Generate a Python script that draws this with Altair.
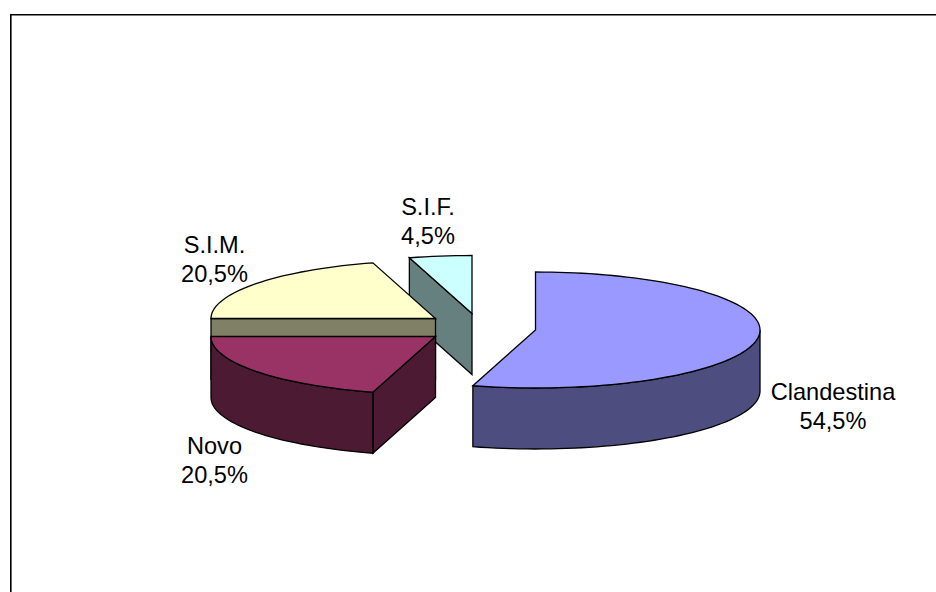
import math

import altair as alt
import pandas as pd

# Shares of each category, clockwise from twelve o'clock
categories = ["Clandestina", "Novo", "S.I.M.", "S.I.F."]
share_labels = ["54,5%", "20,5%", "20,5%", "4,5%"]
shares = [54.5, 20.5, 20.5, 4.5]
top_colors = ["#9999FF", "#993366", "#FFFFCC", "#CCFFFF"]
side_colors = ["#4D4D80", "#4D1A33", "#808066", "#668080"]

# Projection of the tilted disc
RX, RY, DEPTH = 224.5, 58, 61
CENTERS = {
    "Clandestina": (535.5, 330),
    "Novo": (435.5, 336.5),
    "S.I.M.": (435.5, 318.5),
    "S.I.F.": (472, 313.5),
}
LABEL_AT = {
    "Clandestina": (833, 393),
    "Novo": (214.5, 447),
    "S.I.M.": (214.5, 246),
    "S.I.F.": (428, 208),
}
W, H = 936, 592
FRAME_X, FRAME_Y = 10.8, 14.7

x_scale = alt.Scale(domain=[0, W], nice=False, zero=False)
y_scale = alt.Scale(domain=[H, 0], nice=False, zero=False)


def rim(center, a0, a1, drop=0.0):
    """Points of the ellipse between two clockwise angles (degrees from top)."""
    n = max(2, int(abs(a1 - a0) / 2))
    pts = []
    for i in range(n + 1):
        a = math.radians(a0 + (a1 - a0) * i / n)
        pts.append((center[0] + RX * math.sin(a), center[1] - RY * math.cos(a) + drop))
    return pts


def face(points, fill):
    df = pd.DataFrame(points, columns=["px", "py"])
    df["seq"] = range(len(df))
    return (
        alt.Chart(df)
        .mark_line(
            fill=fill,
            stroke="#000000",
            strokeWidth=1.3,
            interpolate="linear-closed",
            clip=False,
        )
        .encode(
            x=alt.X("px:Q", scale=x_scale, axis=None),
            y=alt.Y("py:Q", scale=y_scale, axis=None),
            order="seq:Q",
        )
    )


# Slice boundaries from the shares
bounds = {}
angle = 0.0
for name, value in zip(categories, shares):
    bounds[name] = (angle, angle + value * 3.6)
    angle += value * 3.6


def apex(center, drop=0.0):
    return (center[0], center[1] + drop)


def slice_faces(name, outer=True, cuts=()):
    """Faces of one slice, the back ones first and the top one last."""
    i = categories.index(name)
    c = CENTERS[name]
    a0, a1 = bounds[name]
    out = []
    for cut in cuts:
        edge = rim(c, cut, cut)[0]
        out.append(
            face(
                [apex(c), edge, (edge[0], edge[1] + DEPTH), apex(c, DEPTH)],
                side_colors[i],
            )
        )
    if outer:
        # Only the part of the wall facing the viewer (90 to 270 degrees) shows
        v0, v1 = max(a0, 90), min(a1, 270)
        if v1 > v0:
            upper = rim(c, v0, v1)
            lower = rim(c, v1, v0, DEPTH)
            out.append(face(upper + lower, side_colors[i]))
    out.append(face([apex(c)] + rim(c, a0, a1), top_colors[i]))
    return out


layers = []
# Slices are painted back to front
layers += slice_faces("S.I.F.", outer=False, cuts=[bounds["S.I.F."][0]])
layers += slice_faces("S.I.M.", outer=False, cuts=[bounds["S.I.M."][0]])
layers += slice_faces("Novo", cuts=[bounds["Novo"][0]])
layers += slice_faces("Clandestina")

labels = pd.DataFrame(
    {
        "label": [f"{c}\n{s}" for c, s in zip(categories, share_labels)],
        "px": [LABEL_AT[c][0] for c in categories],
        "py": [LABEL_AT[c][1] for c in categories],
    }
)
label_layer = (
    alt.Chart(labels)
    .mark_text(
        font="Liberation Sans",
        fontSize=23.6,
        color="#000000",
        align="center",
        baseline="middle",
        lineBreak="\n",
        lineHeight=28.5,
    )
    .encode(
        x=alt.X("px:Q", scale=x_scale, axis=None),
        y=alt.Y("py:Q", scale=y_scale, axis=None),
        text="label:N",
    )
)

# Outer border of the chart: only top and left edges fall inside the window
border = pd.DataFrame({"px": [FRAME_X, FRAME_X, W + 5], "py": [H + 5, FRAME_Y, FRAME_Y]})
border["seq"] = range(3)
border_layer = (
    alt.Chart(border)
    .mark_line(stroke="#000000", strokeWidth=1.6, clip=True)
    .encode(
        x=alt.X("px:Q", scale=x_scale, axis=None),
        y=alt.Y("py:Q", scale=y_scale, axis=None),
        order="seq:Q",
    )
)

chart = (
    alt.layer(border_layer, *layers, label_layer)
    .properties(
        width=W,
        height=H,
        padding=0,
        background="#FFFFFF",
        autosize=alt.AutoSizeParams(type="none"),
    )
    .configure_view(stroke=None)
)

chart.save("out.html", embed_options={"renderer": "svg", "actions": False})
